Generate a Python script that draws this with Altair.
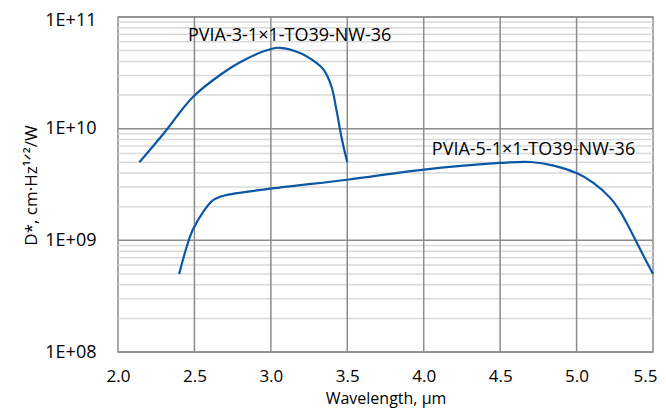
import altair as alt
import pandas as pd

# ---- data ----
pvia3_wl = [2.14, 2.30, 2.49, 2.67, 2.82, 3.00, 3.06, 3.19, 3.30, 3.34, 3.37, 3.40, 3.43, 3.465, 3.50]
pvia3_d = [5.0e9, 9.1e9, 1.92e10, 3.04e10, 4.08e10, 5.17e10, 5.3e10, 4.76e10, 3.87e10, 3.45e10, 2.95e10, 2.3e10, 1.45e10, 8.0e9, 5.0e9]

pvia5_wl = [2.40, 2.45, 2.49, 2.56, 2.62, 2.69, 3.0, 3.5, 4.0, 4.5, 4.7, 4.85, 5.0, 5.11, 5.22, 5.285, 5.35, 5.416, 5.50]
pvia5_d = [5.0e8, 8.8e8, 1.25e9, 1.82e9, 2.28e9, 2.51e9, 2.9e9, 3.49e9, 4.3e9, 4.93e9, 5.03e9, 4.67e9, 4.0e9, 3.27e9, 2.4e9, 1.82e9, 1.25e9, 8.3e8, 5.0e8]

series_names = ["PVIA-3-1×1-TO39-NW-36", "PVIA-5-1×1-TO39-NW-36"]
label_x = [2.458, 4.053]
label_y = [6.05e10, 5.85e9]

x_ticks = [2.0, 2.5, 3.0, 3.5, 4.0, 4.5, 5.0, 5.5]
x_grid = [2.5, 3.0, 3.5, 4.0, 4.5, 5.0]
y_major = [1e8, 1e9, 1e10, 1e11]
minor_mult = [2, 3, 4, 5, 6, 7, 8, 9]
minor_decades = [1e8, 1e9, 1e10]

FONT = "Open Sans, DejaVu Sans, sans-serif"
LINE_COLOR = "#0b57a4"

curves = pd.concat([
    pd.DataFrame({"wl": pvia3_wl, "d": pvia3_d, "s": series_names[0]}),
    pd.DataFrame({"wl": pvia5_wl, "d": pvia5_d, "s": series_names[1]}),
])
labels = pd.DataFrame({"wl": label_x, "d": label_y, "t": series_names})
minor_df = pd.DataFrame({"v": [m * d for d in minor_decades for m in minor_mult]})
major_df = pd.DataFrame({"v": y_major})
xgrid_df = pd.DataFrame({"v": x_grid})

xscale = alt.Scale(domain=[2.0, 5.5], nice=False, zero=False)
yscale = alt.Scale(type="log", domain=[1e8, 1e11], nice=False)

x_axis = alt.Axis(values=x_ticks, format=".1f", title="Wavelength, µm", grid=False,
                  ticks=False, tickSize=0, domain=False, labelPadding=16, labelFontSize=17,
                  titleBaseline="alphabetic", titleY=51, titleFontSize=16, labelFlush=False,
                  labelAlign=alt.condition("datum.value >= 5.5", alt.value("right"), alt.value("center")),
                  labelOffset=alt.condition("datum.value >= 5.5", alt.value(4), alt.value(0)))
y_axis = alt.Axis(values=y_major, grid=False, ticks=False, tickSize=0, domain=False,
                  labelPadding=22, title="D*, cm·Hz¹ᐟ²/W",
                  labelExpr="'1E+' + (round(log(datum.value)/LN10) < 10 ? '0' : '') + round(log(datum.value)/LN10)",
                  labelOffset=alt.condition("datum.value >= 1e11", alt.value(3), alt.value(0)),
                  titleBaseline="alphabetic", titleX=-82, titleY=168)

minor = alt.Chart(minor_df).mark_rule(color="#d9d9d9", strokeWidth=1.5).encode(
    y=alt.Y("v:Q", scale=yscale, axis=y_axis)
)
major = alt.Chart(major_df).mark_rule(color="#8c8c8c", strokeWidth=1.5).encode(
    y=alt.Y("v:Q", scale=yscale)
)
xgrid = alt.Chart(xgrid_df).mark_rule(color="#8c8c8c", strokeWidth=1.5).encode(
    x=alt.X("v:Q", scale=xscale, axis=x_axis)
)
lines = alt.Chart(curves).mark_line(color=LINE_COLOR, strokeWidth=2.2, interpolate="catmull-rom").encode(
    x=alt.X("wl:Q", scale=xscale),
    y=alt.Y("d:Q", scale=yscale),
    detail="s:N",
)
texts = alt.Chart(labels).mark_text(align="left", baseline="alphabetic", font=FONT,
                                     fontSize=18, color="#000000").encode(
    x=alt.X("wl:Q", scale=xscale),
    y=alt.Y("d:Q", scale=yscale),
    text="t:N",
)

chart = alt.layer(minor, major, xgrid, lines, texts).properties(
    width=535, height=335,
    background="white",
    autosize=alt.AutoSizeParams(type="none"),
    padding={"left": 110, "top": 9, "right": 5, "bottom": 57},
).configure_view(
    stroke="#8c8c8c", strokeWidth=1.5
).configure_axis(
    labelFont=FONT, labelFontSize=18, labelColor="#000000",
    titleFont=FONT, titleFontSize=17, titleFontWeight="normal", titleColor="#000000",
)

chart.save("out.html", embed_options={"renderer": "svg", "actions": False})
